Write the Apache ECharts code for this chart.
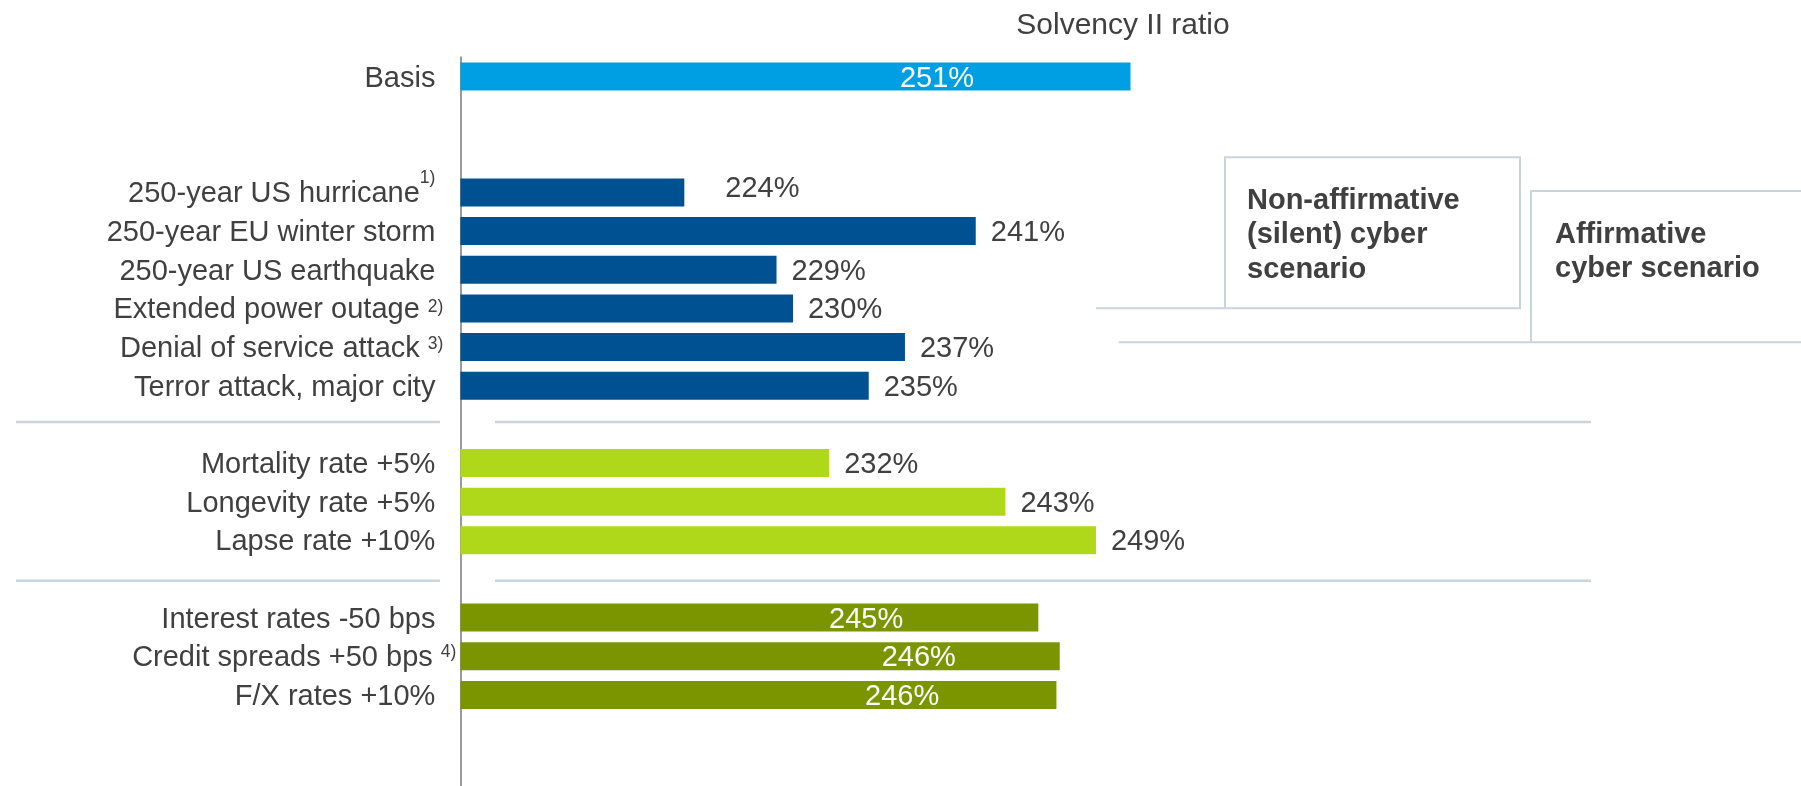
<!DOCTYPE html>
<html><head><meta charset="utf-8">
<script src="https://cdn.jsdelivr.net/npm/echarts@6/dist/echarts.min.js"></script>
<style>html,body{margin:0;padding:0;background:#fff}#c{width:1801px;height:786px}</style>
</head><body><div id="c"></div>
<script>
// ---------- data ----------
const categories = ['Basis', '', '', '250-year US hurricane', '250-year EU winter storm', '250-year US earthquake',
  'Extended power outage', 'Denial of service attack', 'Terror attack, major city', '',
  'Mortality rate +5%', 'Longevity rate +5%', 'Lapse rate +10%', '',
  'Interest rates -50 bps', 'Credit spreads +50 bps', 'F/X rates +10%', '', ''];
const footnotes = ['', '', '', '1)', '', '', ' 2)', ' 3)', '', '', '', '', '', '', '', ' 4)', '', '', ''];
const groups = ['basis', null, null, 'nat', 'nat', 'nat', 'nat', 'nat', 'nat', null,
  'life', 'life', 'life', null, 'fin', 'fin', 'fin', null, null];
const ratios = [250.7, null, null, 223.6, 241.3, 229.2, 230.2, 237.0, 234.8, null,
  232.4, 243.1, 248.6, null, 245.1, 246.4, 246.2, null, null];
const titleText = 'Solvency II ratio';
const boxTexts = ['Non-affirmative\n(silent) cyber\nscenario', 'Affirmative\ncyber scenario'];

// ---------- styles ----------
const FONT = '"Liberation Sans", Arial, Helvetica, sans-serif';
const FS = 29;
const TXT = '#404040';
const groupColors = { basis: '#009fe3', nat: '#005192', life: '#aed819', fin: '#7b9500' };
const insideGroups = { basis: true, fin: true };
const insideOffsets = { 0: 439.5, 14: 368.6, 15: 421.3, 16: 404.6 };
const outsideOverrides = { 3: { distance: 41, offset: [0, -3] } };
const supRaise = { 3: 33, 6: 7, 7: 9, 15: 12 };
const labelShift = { 6: 8, 7: 8, 15: 21 };
const LINE = '#c9d4dd';
const PADTOP = 4;

const chart = echarts.init(document.getElementById('c'), null, { renderer: 'canvas' });

const rich = {
  n: { fontSize: FS, fontFamily: FONT, color: TXT, lineHeight: 34, verticalAlign: 'middle' }
};
Object.keys(supRaise).forEach(i => {
  rich['s' + i] = { fontSize: 17.5, fontFamily: FONT, color: TXT, lineHeight: 17,
    verticalAlign: 'middle', padding: [0, 0, supRaise[i], 0] };
});

const yData = categories.map((c, i) => labelShift[i]
  ? { value: c, textStyle: { padding: [PADTOP, -labelShift[i], 0, 0] } }
  : c);

function labelFor(i) {
  const g = groups[i];
  if (insideGroups[g]) {
    return { show: true, position: 'insideLeft', distance: 0, offset: [insideOffsets[i] || 0, 2],
      color: '#ffffff', fontSize: FS, fontFamily: FONT };
  }
  const o = outsideOverrides[i] || {};
  return { show: true, position: 'right', distance: o.distance != null ? o.distance : 15,
    offset: o.offset || [0, 2], color: TXT, fontSize: FS, fontFamily: FONT };
}

const seriesData = ratios.map((v, i) => v == null ? null : {
  value: v,
  itemStyle: { color: groupColors[groups[i]] },
  label: labelFor(i)
});

chart.setOption({
  animation: false,
  backgroundColor: '#ffffff',
  grid: { left: 460.4, right: 23.4, top: 57.2, bottom: -5.5, outerBoundsMode: 'none', containLabel: false },
  xAxis: {
    type: 'value', min: 210, max: 290, show: false
  },
  yAxis: {
    type: 'category', inverse: true, data: yData,
    axisLine: { show: true, lineStyle: { color: '#9a9a9a', width: 2 } },
    axisTick: { show: false },
    splitLine: { show: false },
    axisLabel: {
      interval: 0, margin: 25, color: TXT, fontSize: FS, fontFamily: FONT, padding: [PADTOP, 0, 0, 0],
      formatter: function (value, index) {
        if (!value) return '';
        const fn = footnotes[index] || '';
        let s = '{n|' + value + '}';
        if (fn) {
          if (fn.charAt(0) === ' ') s += '{n| }';
          s += '{s' + index + '|' + fn.trim() + '}';
        }
        return s;
      },
      rich: rich
    }
  },
  series: [{
    type: 'bar', barWidth: 28, data: seriesData,
    label: { show: true, formatter: p => Math.round(p.value) + '%' }
  }]
});

const ls = { stroke: LINE, lineWidth: 2.5 };
const sepY = [422, 580.7];
const graphics = [
  { type: 'text', x: 1123, y: 25.5, style: { text: titleText, fontSize: 30, fontFamily: FONT, fill: TXT, textAlign: 'center', textVerticalAlign: 'middle' } },
  { type: 'rect', shape: { x: 1225, y: 157.3, width: 295, height: 151 }, style: { fill: 'none', stroke: LINE, lineWidth: 2 } },
  { type: 'line', shape: { x1: 1096, y1: 308.3, x2: 1225, y2: 308.3 }, style: { stroke: LINE, lineWidth: 2 } },
  { type: 'rect', shape: { x: 1531, y: 191, width: 320, height: 151.3 }, style: { fill: 'none', stroke: LINE, lineWidth: 2 } },
  { type: 'line', shape: { x1: 1118.7, y1: 342.3, x2: 1531, y2: 342.3 }, style: { stroke: LINE, lineWidth: 2 } },
  { type: 'text', x: 1247, y: 235, style: { text: boxTexts[0], fontSize: FS, fontWeight: 'bold', fontFamily: FONT, fill: TXT, lineHeight: 34.5, textAlign: 'left', textVerticalAlign: 'middle' } },
  { type: 'text', x: 1555, y: 252, style: { text: boxTexts[1], fontSize: FS, fontWeight: 'bold', fontFamily: FONT, fill: TXT, lineHeight: 34.5, textAlign: 'left', textVerticalAlign: 'middle' } }
];
sepY.forEach(y => {
  graphics.push({ type: 'line', shape: { x1: 16, y1: y, x2: 440, y2: y }, style: ls });
  graphics.push({ type: 'line', shape: { x1: 495, y1: y, x2: 1591, y2: y }, style: ls });
});
chart.setOption({ graphic: graphics });
</script>
</body></html>
